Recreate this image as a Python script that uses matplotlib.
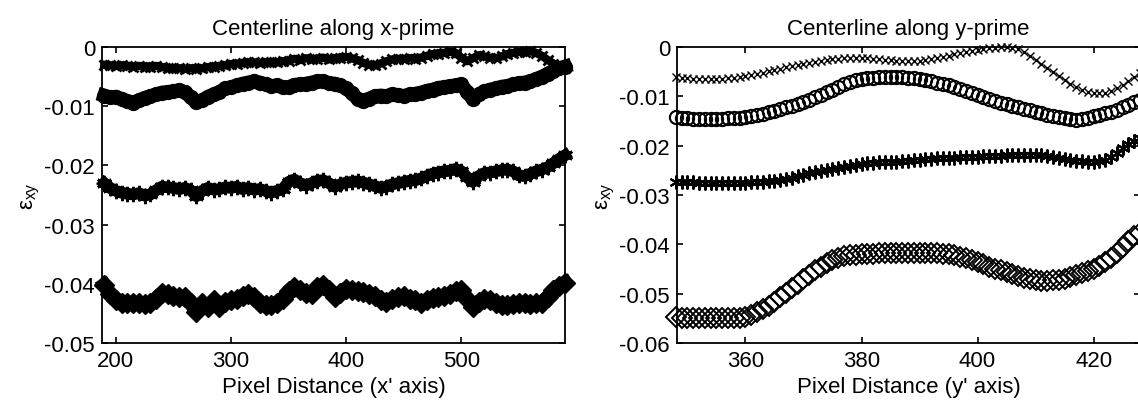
import matplotlib
matplotlib.use('Agg')
import matplotlib.pyplot as plt
import numpy as np

plt.rcParams['font.family'] = ['Liberation Sans Narrow', 'Liberation Sans', 'DejaVu Sans']
plt.rcParams['axes.unicode_minus'] = False

# ---- left panel: centerline along x-prime ----
x_left = np.arange(190, 595, 5)

xp_s1 = [-0.0030, -0.0031, -0.0032, -0.0031, -0.0032, -0.0033, -0.0032, -0.0033, -0.0033, -0.0032,
         -0.0034, -0.0035, -0.0036, -0.0036, -0.0037, -0.0036, -0.0037, -0.0036, -0.0034, -0.0033,
         -0.0032, -0.0031, -0.0029, -0.0028, -0.0027, -0.0026, -0.0026, -0.0027, -0.0026, -0.0025,
         -0.0026, -0.0024, -0.0023, -0.0020, -0.0022, -0.0019, -0.0021, -0.0020, -0.0018, -0.0021,
         -0.0019, -0.0018, -0.0017, -0.0019, -0.0022, -0.0027, -0.0030, -0.0031, -0.0028, -0.0024,
         -0.0021, -0.0020, -0.0020, -0.0019, -0.0020, -0.0018, -0.0015, -0.0012, -0.0011, -0.0010,
         -0.0008, -0.0010, -0.0018, -0.0024, -0.0019, -0.0014, -0.0016, -0.0018, -0.0019, -0.0016,
         -0.0012, -0.0010, -0.0008, -0.0009, -0.0007, -0.0010, -0.0015, -0.0022, -0.0028, -0.0032,
         -0.0036]
xp_s2 = [-0.0082, -0.0085, -0.0084, -0.0088, -0.0092, -0.0094, -0.0090, -0.0086, -0.0083, -0.0080,
         -0.0077, -0.0076, -0.0075, -0.0073, -0.0076, -0.0085, -0.0093, -0.0090, -0.0084, -0.0080,
         -0.0076, -0.0070, -0.0068, -0.0065, -0.0062, -0.0060, -0.0058, -0.0060, -0.0063, -0.0066,
         -0.0065, -0.0068, -0.0068, -0.0064, -0.0063, -0.0062, -0.0060, -0.0058, -0.0058, -0.0061,
         -0.0062, -0.0065, -0.0070, -0.0078, -0.0088, -0.0091, -0.0087, -0.0083, -0.0082, -0.0083,
         -0.0080, -0.0081, -0.0083, -0.0080, -0.0079, -0.0077, -0.0074, -0.0072, -0.0069, -0.0068,
         -0.0066, -0.0065, -0.0063, -0.0076, -0.0088, -0.0080, -0.0075, -0.0072, -0.0070, -0.0067,
         -0.0066, -0.0063, -0.0061, -0.0060, -0.0058, -0.0054, -0.0050, -0.0045, -0.0040, -0.0036,
         -0.0033]
xp_s3 = [-0.0230, -0.0238, -0.0243, -0.0246, -0.0248, -0.0249, -0.0247, -0.0251, -0.0249, -0.0242,
         -0.0236, -0.0237, -0.0238, -0.0240, -0.0238, -0.0242, -0.0252, -0.0243, -0.0238, -0.0241,
         -0.0240, -0.0237, -0.0238, -0.0236, -0.0240, -0.0238, -0.0241, -0.0240, -0.0243, -0.0246,
         -0.0243, -0.0240, -0.0228, -0.0224, -0.0230, -0.0234, -0.0230, -0.0226, -0.0225, -0.0230,
         -0.0236, -0.0232, -0.0229, -0.0228, -0.0227, -0.0229, -0.0232, -0.0235, -0.0238, -0.0236,
         -0.0232, -0.0230, -0.0228, -0.0226, -0.0225, -0.0222, -0.0218, -0.0214, -0.0212, -0.0210,
         -0.0209, -0.0206, -0.0210, -0.0220, -0.0228, -0.0218, -0.0213, -0.0212, -0.0210, -0.0208,
         -0.0207, -0.0210, -0.0217, -0.0218, -0.0214, -0.0210, -0.0207, -0.0203, -0.0196, -0.0189,
         -0.0183]
xp_s4 = [-0.0402, -0.0418, -0.0428, -0.0432, -0.0433, -0.0433, -0.0432, -0.0434, -0.0433, -0.0425,
         -0.0416, -0.0417, -0.0420, -0.0423, -0.0422, -0.0432, -0.0447, -0.0432, -0.0440, -0.0428,
         -0.0440, -0.0430, -0.0428, -0.0426, -0.0420, -0.0417, -0.0423, -0.0432, -0.0436, -0.0436,
         -0.0432, -0.0425, -0.0412, -0.0405, -0.0410, -0.0416, -0.0418, -0.0405, -0.0402, -0.0410,
         -0.0422, -0.0415, -0.0408, -0.0410, -0.0413, -0.0414, -0.0418, -0.0420, -0.0428, -0.0430,
         -0.0425, -0.0423, -0.0420, -0.0426, -0.0428, -0.0433, -0.0428, -0.0424, -0.0422, -0.0420,
         -0.0418, -0.0412, -0.0410, -0.0425, -0.0440, -0.0430, -0.0425, -0.0428, -0.0432, -0.0435,
         -0.0436, -0.0434, -0.0432, -0.0433, -0.0434, -0.0433, -0.0432, -0.0422, -0.0410, -0.0403,
         -0.0398]

# ---- right panel: centerline along y-prime ----
x_right = np.arange(348, 429)

yp_s1 = [-0.0060, -0.0062, -0.0063, -0.0064, -0.0064, -0.0065, -0.0065, -0.0064, -0.0064, -0.0063,
         -0.0062, -0.0061, -0.0059, -0.0057, -0.0055, -0.0052, -0.0049, -0.0046, -0.0044, -0.0041,
         -0.0038, -0.0036, -0.0034, -0.0032, -0.0030, -0.0028, -0.0027, -0.0025, -0.0024, -0.0023,
         -0.0023, -0.0022, -0.0022, -0.0023, -0.0024, -0.0025, -0.0026, -0.0027, -0.0028, -0.0029,
         -0.0029, -0.0029, -0.0028, -0.0027, -0.0025, -0.0023, -0.0021, -0.0018, -0.0015, -0.0013,
         -0.0011, -0.0009, -0.0007, -0.0005, -0.0003, -0.0002, -0.0001, -0.0001, -0.0002, -0.0005,
         -0.0011, -0.0018, -0.0026, -0.0034, -0.0042, -0.0050, -0.0058, -0.0066, -0.0074, -0.0081,
         -0.0087, -0.0091, -0.0093, -0.0094, -0.0093, -0.0089, -0.0084, -0.0077, -0.0069, -0.0061,
         -0.0053]
yp_s2 = [-0.0142, -0.0143, -0.0144, -0.0145, -0.0145, -0.0145, -0.0145, -0.0145, -0.0145, -0.0144,
         -0.0144, -0.0143, -0.0142, -0.0140, -0.0138, -0.0135, -0.0132, -0.0129, -0.0126, -0.0122,
         -0.0119, -0.0115, -0.0112, -0.0107, -0.0102, -0.0097, -0.0092, -0.0087, -0.0081, -0.0076,
         -0.0071, -0.0067, -0.0065, -0.0063, -0.0062, -0.0061, -0.0060, -0.0060, -0.0060, -0.0061,
         -0.0062, -0.0063, -0.0065, -0.0067, -0.0069, -0.0072, -0.0075, -0.0078, -0.0082, -0.0086,
         -0.0090, -0.0094, -0.0098, -0.0102, -0.0106, -0.0110, -0.0113, -0.0116, -0.0119, -0.0122,
         -0.0125, -0.0128, -0.0131, -0.0134, -0.0137, -0.0140, -0.0142, -0.0144, -0.0146, -0.0147,
         -0.0146, -0.0144, -0.0140, -0.0137, -0.0134, -0.0131, -0.0127, -0.0122, -0.0117, -0.0112,
         -0.0107]
yp_s3 = [-0.0273, -0.0273, -0.0274, -0.0274, -0.0275, -0.0275, -0.0275, -0.0275, -0.0275, -0.0275,
         -0.0275, -0.0275, -0.0275, -0.0274, -0.0274, -0.0273, -0.0272, -0.0271, -0.0269, -0.0267,
         -0.0265, -0.0262, -0.0259, -0.0256, -0.0253, -0.0251, -0.0249, -0.0247, -0.0245, -0.0243,
         -0.0241, -0.0239, -0.0237, -0.0236, -0.0235, -0.0234, -0.0234, -0.0233, -0.0233, -0.0232,
         -0.0231, -0.0230, -0.0229, -0.0228, -0.0227, -0.0226, -0.0225, -0.0224, -0.0224, -0.0223,
         -0.0223, -0.0222, -0.0222, -0.0221, -0.0221, -0.0220, -0.0220, -0.0219, -0.0219, -0.0218,
         -0.0218, -0.0218, -0.0218, -0.0219, -0.0221, -0.0223, -0.0225, -0.0227, -0.0229, -0.0231,
         -0.0232, -0.0233, -0.0233, -0.0232, -0.0229, -0.0223, -0.0214, -0.0205, -0.0197, -0.0190,
         -0.0185]
yp_s4 = [-0.0548, -0.0549, -0.0550, -0.0550, -0.0550, -0.0550, -0.0550, -0.0550, -0.0550, -0.0550,
         -0.0550, -0.0549, -0.0547, -0.0543, -0.0538, -0.0532, -0.0524, -0.0516, -0.0507, -0.0498,
         -0.0489, -0.0480, -0.0471, -0.0462, -0.0453, -0.0445, -0.0438, -0.0432, -0.0427, -0.0424,
         -0.0422, -0.0421, -0.0420, -0.0419, -0.0419, -0.0418, -0.0418, -0.0417, -0.0417, -0.0417,
         -0.0417, -0.0417, -0.0417, -0.0417, -0.0417, -0.0418, -0.0419, -0.0420, -0.0422, -0.0425,
         -0.0428, -0.0432, -0.0436, -0.0440, -0.0445, -0.0449, -0.0453, -0.0457, -0.0461, -0.0465,
         -0.0468, -0.0471, -0.0473, -0.0474, -0.0474, -0.0473, -0.0472, -0.0470, -0.0467, -0.0463,
         -0.0459, -0.0454, -0.0449, -0.0443, -0.0436, -0.0428, -0.0418, -0.0405, -0.0393, -0.0384,
         -0.0377]

left_xticks = [200, 300, 400, 500]
left_yticks = [0, -0.01, -0.02, -0.03, -0.04, -0.05]
left_ylabels = ['0', '-0.01', '-0.02', '-0.03', '-0.04', '-0.05']
right_xticks = [360, 380, 400, 420]
right_yticks = [0, -0.01, -0.02, -0.03, -0.04, -0.05, -0.06]
right_ylabels = ['0', '-0.01', '-0.02', '-0.03', '-0.04', '-0.05', '-0.06']

W, H = 1138, 410
fig = plt.figure(figsize=(W / 100, H / 100), dpi=100)
ax1 = fig.add_axes([102 / W, (H - 344) / H, 463 / W, 296 / H])
ax2 = fig.add_axes([677 / W, (H - 344) / H, 463 / W, 296 / H])

fs = 16

# left panel: dense samples form solid bands
ax1.plot(x_left, xp_s1, '-', color='k', lw=6, clip_on=False)
ax1.plot(x_left, xp_s1, 'x', color='k', ms=7, mew=2, clip_on=False)
ax1.plot(x_left, xp_s2, '-', color='k', lw=10, clip_on=False)
ax1.plot(x_left, xp_s2, 'o', color='k', ms=10, clip_on=False)
ax1.plot(x_left, xp_s3, '-', color='k', lw=8.5, clip_on=False)
ax1.plot(x_left, xp_s3, marker=(6, 2, 0), ls='none', color='k', ms=11, mew=2, clip_on=False)
ax1.plot(x_left, xp_s4, '-', color='k', lw=10, clip_on=False)
ax1.plot(x_left, xp_s4, 'D', color='k', ms=10, clip_on=False)

ax1.set_xlim(188, 590)
ax1.set_ylim(-0.05, 0)
ax1.set_xticks(left_xticks)
ax1.set_yticks(left_yticks)
ax1.set_yticklabels(left_ylabels)
ax1.set_title('Centerline along x-prime', fontsize=fs, pad=9)
ax1.set_xlabel("Pixel Distance (x' axis)", fontsize=fs, labelpad=4)
ax1.set_ylabel('ε$_{\\mathregular{xy}}$', fontsize=fs, labelpad=2)

# right panel: open markers
ax2.plot(x_right, yp_s1, 'x', color='k', ms=6, mew=1.0, clip_on=False)
ax2.plot(x_right, yp_s2, 'o', color='k', mfc='none', ms=9.5, mew=1.5, clip_on=False)
ax2.plot(x_right, yp_s3, marker=(6, 2, 0), ls='none', color='k', ms=10, mew=1.5, clip_on=False)
ax2.plot(x_right, yp_s4, 'D', color='k', mfc='none', ms=10, mew=1.4, clip_on=False)

ax2.set_xlim(348.2, 428)
ax2.set_ylim(-0.06, 0)
ax2.set_xticks(right_xticks)
ax2.set_yticks(right_yticks)
ax2.set_yticklabels(right_ylabels)
ax2.set_title('Centerline along y-prime', fontsize=fs, pad=9)
ax2.set_xlabel("Pixel Distance (y' axis)", fontsize=fs, labelpad=4)
ax2.set_ylabel('ε$_{\\mathregular{xy}}$', fontsize=fs, labelpad=2)

for ax in (ax1, ax2):
    ax.tick_params(direction='in', length=4, width=1.2, labelsize=fs, pad=5,
                   top=True, right=True)
    for sp in ax.spines.values():
        sp.set_linewidth(1.3)

fig.savefig('out.png', dpi=100)
